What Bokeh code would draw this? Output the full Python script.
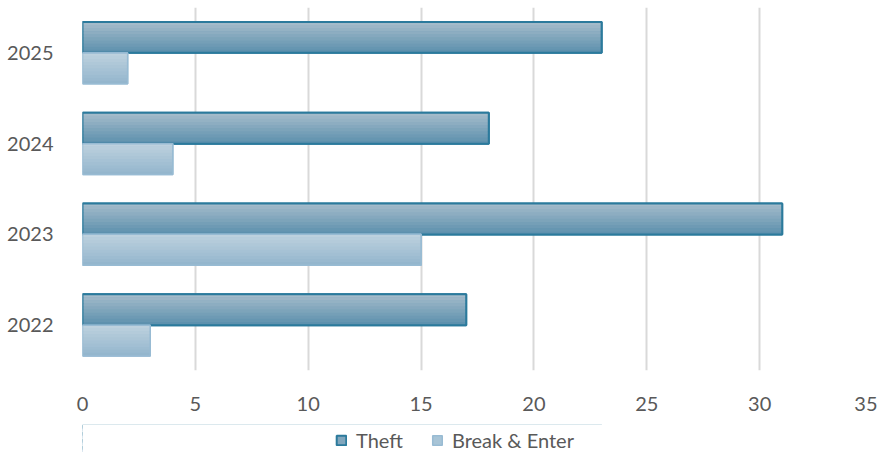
from bokeh.plotting import figure
from bokeh.models import (ColumnDataSource, FactorRange, Range1d, Legend, LegendItem,
                          SingleIntervalTicker, BoxAnnotation)
from bokeh.layouts import column
from bokeh.transform import dodge
from bokeh.embed import file_html
from bokeh.resources import INLINE

years = ["2022", "2023", "2024", "2025"]
theft = [17, 31, 18, 23]
break_enter = [3, 15, 4, 2]
series_names = ["Theft", "Break & Enter"]

src = ColumnDataSource(dict(year=years, theft=theft, be=break_enter))

FONT = "Lato"
TXT = "#595959"

p = figure(width=877, height=424, y_range=FactorRange(*years, range_padding=0),
           x_range=Range1d(0, 35), output_backend="svg", toolbar_location=None,
           min_border_left=82, min_border_right=5, min_border_top=7, min_border_bottom=54)
p.outline_line_color = None
p.ygrid.visible = False
p.xgrid.grid_line_color = "#d9d9d9"
p.xgrid.grid_line_width = 2
p.xaxis.ticker = SingleIntervalTicker(interval=5)
for ax in (p.xaxis, p.yaxis):
    ax.axis_line_color = None
    ax.major_tick_line_color = None
    ax.minor_tick_line_color = None
    ax.major_label_text_font = FONT
    ax.major_label_text_font_size = "20px"
    ax.major_label_text_color = TXT
p.xaxis.major_label_standoff = 20
p.yaxis.major_label_standoff = 23

H = 0.34
N = 10

STYLES = {
    "theft": dict(off=0.17, top="#a8bdcc", bot="#5a8fac", line="#2b7a9c", lw=2),
    "be": dict(off=-0.17, top="#bfd2df", bot="#92b5cc", line="#98bbd3", lw=1.5),
}


def hexmix(c1, c2, t):
    a = [int(c1[i:i + 2], 16) for i in (1, 3, 5)]
    b = [int(c2[i:i + 2], 16) for i in (1, 3, 5)]
    return "#%02x%02x%02x" % tuple(round(a[i] + (b[i] - a[i]) * t) for i in range(3))


def series(fig, field, full=True):
    s = STYLES[field]
    off = s["off"]
    base = fig.hbar(y=dodge("year", off, range=fig.y_range), right=field, left=0, height=H, source=src,
                    fill_color=hexmix(s["top"], s["bot"], 0.5), line_color=s["line"], line_width=s["lw"])
    if full:
        for k in range(N):
            c = off + H / 2 - (k + 0.5) * H / N
            fig.hbar(y=dodge("year", c, range=fig.y_range), right=field, left=0, height=H / N + 0.002,
                     source=src, fill_color=hexmix(s["top"], s["bot"], (k + 0.5) / N), line_color=None)
        fig.hbar(y=dodge("year", off, range=fig.y_range), right=field, left=0, height=H, source=src,
                 fill_alpha=0, line_color=s["line"], line_width=s["lw"])
    return base


series(p, "theft")
series(p, "be")

# legend strip below the chart (its bars are covered by a white box, only the legend shows)
lf = figure(width=877, height=28, y_range=FactorRange(*years), x_range=Range1d(0, 35),
            output_backend="svg", toolbar_location=None,
            min_border_left=82, min_border_right=5, min_border_top=0, min_border_bottom=0)
lf.axis.visible = False
lf.grid.visible = False
lf.outline_line_color = None
l1 = series(lf, "theft", full=False)
l2 = series(lf, "be", full=False)
lf.add_layout(BoxAnnotation(fill_color="white", fill_alpha=1, line_color="white", line_width=8))

legend = Legend(items=[LegendItem(label=series_names[0], renderers=[l1]),
                       LegendItem(label=series_names[1], renderers=[l2])],
                orientation="horizontal", location=(253, 0),
                label_text_font=FONT, label_text_font_size="20px", label_text_color=TXT,
                glyph_width=12, glyph_height=12, spacing=28, label_standoff=9,
                border_line_color=None, background_fill_alpha=0, margin=0, padding=0)
lf.add_layout(legend)

layout = column(p, lf, spacing=0)
open("out.html", "w").write(file_html(layout, INLINE))
